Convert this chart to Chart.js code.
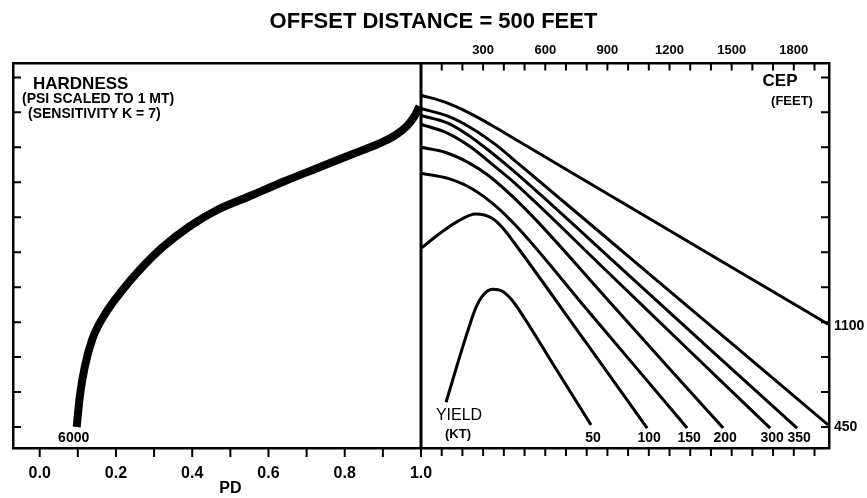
<!DOCTYPE html>
<html>
<head>
<meta charset="utf-8">
<script src="https://cdn.jsdelivr.net/npm/chart.js@4.4.1/dist/chart.umd.min.js"></script>
<style>
  body { margin: 0; background: #fff; }
  #grafica { display: block; }
</style>
</head>
<body>
<canvas id="grafica" width="867" height="498"></canvas>
<script>
// values (vertical axis in tick units, 0 = lowest tick)

// left panel: hardness curve against PD
const pdValues = [0.097, 0.105, 0.118, 0.139, 0.173, 0.215, 0.262, 0.322, 0.393, 0.464, 0.550, 0.642, 0.734, 0.826, 0.891, 0.936, 0.965, 0.983, 0.996];
const hardness = [0.0, 0.86, 1.71, 2.54, 3.26, 3.89, 4.49, 5.14, 5.74, 6.20, 6.60, 7.03, 7.43, 7.83, 8.11, 8.37, 8.63, 8.89, 9.17];

// right panel: one curve per yield (KT) against CEP (feet)
const yieldNames = ["50", "100", "150", "200", "300", "350", "450", "1100"];

const cep50 = [121, 179, 227, 266, 304, 348, 391, 435, 478, 650, 821];
const val50 = [0.71, 1.86, 2.77, 3.43, 3.80, 3.94, 3.89, 3.66, 3.31, 1.68, 0.06];

const cep100 = [0, 92, 179, 265, 343, 400, 450, 800, 1092];
const val100 = [5.11, 5.54, 5.89, 6.09, 5.97, 5.66, 5.27, 2.39, -0.03];

const cep150 = [0, 130, 242, 357, 469, 800, 1050, 1285];
const val150 = [7.26, 7.11, 6.83, 6.34, 5.69, 3.37, 1.62, -0.03];

const cep200 = [0, 116, 227, 324, 435, 565, 900, 1200, 1459];
const val200 = [8.00, 7.86, 7.57, 7.20, 6.63, 5.86, 3.65, 1.67, -0.03];

const cep300 = [0, 130, 242, 338, 454, 900, 1300, 1686];
const val300 = [8.66, 8.40, 8.00, 7.54, 6.97, 4.44, 2.16, -0.03];

const cep350 = [0, 130, 242, 338, 454, 1000, 1400, 1816];
const val350 = [8.91, 8.69, 8.29, 7.86, 7.29, 4.36, 2.20, -0.03];

const cep450 = [0, 130, 246, 357, 469, 1000, 1500, 1966];
const val450 = [9.11, 8.89, 8.54, 8.09, 7.54, 4.89, 2.39, 0.06];

const cep1100 = [0, 116, 227, 333, 439, 1000, 1500, 1966];
const val1100 = [9.49, 9.29, 9.00, 8.66, 8.29, 6.32, 4.57, 2.94];

// axis ticks
const pdTicks = [0, 0.1, 0.2, 0.3, 0.4, 0.5, 0.6, 0.7, 0.8, 0.9, 1.0];
const cepTicks = [100, 200, 300, 400, 500, 600, 700, 800, 900, 1000, 1100, 1200, 1300, 1400, 1500, 1600, 1700, 1800, 1900];
const cepLabels = [300, 600, 900, 1200, 1500, 1800];
const hardnessTicks = [0, 1, 2, 3, 4, 5, 6, 7, 8, 9, 10];

const yieldCurves = [
    [cep50, val50], [cep100, val100], [cep150, val150], [cep200, val200],
    [cep300, val300], [cep350, val350], [cep450, val450], [cep1100, val1100]
];

const FONT = "'Liberation Sans', Arial, sans-serif";

function toPoints(xs, ys) {
    return xs.map((v, i) => ({ x: v, y: ys[i] }));
}

function writeText(ctx, s, x, y, size, weight, align) {
    ctx.font = `${weight} ${size}px ${FONT}`;
    ctx.textAlign = align || "left";
    ctx.textBaseline = "middle";
    ctx.fillText(s, x, y);
}

// inward tick marks, panel divider and annotations
const frameMarks = {
    id: "frameMarks",
    afterDatasetsDraw(chart) {
        const { ctx, chartArea: a, scales } = chart;
        const { x, x2, y } = scales;
        ctx.save();
        ctx.strokeStyle = "#000";
        ctx.fillStyle = "#000";
        ctx.lineWidth = 2;
        ctx.beginPath();
        y.ticks.forEach(t => {
            const py = y.getPixelForValue(t.value);
            ctx.moveTo(a.left, py); ctx.lineTo(a.left + 8, py);
            ctx.moveTo(a.right - 8, py); ctx.lineTo(a.right, py);
        });
        x.ticks.forEach(t => {
            const px = x.getPixelForValue(t.value);
            ctx.moveTo(px, a.bottom); ctx.lineTo(px, a.bottom + 9);
        });
        x2.ticks.forEach(t => {
            const px = x2.getPixelForValue(t.value);
            ctx.moveTo(px, a.top); ctx.lineTo(px, a.top + 7);
            ctx.moveTo(px, a.bottom); ctx.lineTo(px, a.bottom + 8);
        });
        ctx.stroke();

        const divider = x.getPixelForValue(1);
        ctx.lineWidth = 3;
        ctx.beginPath();
        ctx.moveTo(divider, a.top); ctx.lineTo(divider, a.bottom);
        ctx.stroke();

        // left panel texts
        writeText(ctx, "HARDNESS", a.left + 20, a.top + 21, 17, "bold");
        writeText(ctx, "(PSI SCALED TO 1 MT)", a.left + 9, a.top + 36, 14, "bold");
        writeText(ctx, "(SENSITIVITY K = 7)", a.left + 15, a.top + 51, 14, "bold");
        writeText(ctx, "6000", x.getPixelForValue(pdValues[0]) - 3, a.bottom - 10, 14, "bold", "center");
        writeText(ctx, "PD", x.getPixelForValue(0.5), a.bottom + 41, 16, "bold", "center");

        // right panel texts
        writeText(ctx, "CEP", a.right - 49, a.top + 18, 17, "bold", "center");
        writeText(ctx, "(FEET)", a.right - 37, a.top + 38, 13, "bold", "center");
        writeText(ctx, "YIELD", divider + 38, a.bottom - 32, 16, "normal", "center");
        writeText(ctx, "(KT)", divider + 37, a.bottom - 14, 13, "bold", "center");

        yieldCurves.forEach(([xs, ys], i) => {
            const last = xs.length - 1;
            const px = x2.getPixelForValue(xs[last]);
            if (ys[last] > 0.5 || xs[last] > 1900) {
                // curves leaving through the right edge
                writeText(ctx, yieldNames[i], a.right + 5, y.getPixelForValue(ys[last]) + 2, 14, "bold");
            } else {
                writeText(ctx, yieldNames[i], px + 2, a.bottom - 10, 14, "bold", "center");
            }
        });
        ctx.restore();
    }
};

const datasets = [{
    data: toPoints(pdValues, hardness),
    xAxisID: "x",
    yAxisID: "y",
    borderColor: "#000",
    borderWidth: 8,
    borderCapStyle: "butt",
    pointRadius: 0,
    cubicInterpolationMode: "monotone"
}];

yieldCurves.forEach(([xs, ys]) => {
    datasets.push({
        data: toPoints(xs, ys),
        xAxisID: "x2",
        yAxisID: "y",
        borderColor: "#000",
        borderWidth: 3,
        pointRadius: 0,
        cubicInterpolationMode: "monotone"
    });
});

const frameBorder = { display: true, color: "#000", width: 2.5 };

new Chart(document.getElementById("grafica"), {
    type: "line",
    data: { datasets },
    plugins: [frameMarks],
    options: {
        responsive: false,
        animation: false,
        layout: { padding: 0 },
        plugins: {
            legend: { display: false },
            tooltip: { enabled: false },
            title: {
                display: true,
                text: "OFFSET DISTANCE = 500 FEET",
                color: "#000",
                font: { family: FONT, size: 22, weight: "bold" },
                padding: { top: 9, bottom: 5 }
            }
        },
        scales: {
            x: {
                type: "linear",
                position: "bottom",
                min: -0.07,
                max: 2.07,
                afterBuildTicks: scale => { scale.ticks = pdTicks.map(v => ({ value: v })); },
                afterFit: scale => { scale.height = 50; },
                grid: { display: false, drawTicks: false },
                border: frameBorder,
                ticks: {
                    autoSkip: false,
                    maxRotation: 0,
                    padding: 16,
                    color: "#000",
                    font: { family: FONT, size: 16, weight: "bold" },
                    callback: (v, i) => (i % 2 === 0 ? v.toFixed(1) : "")
                }
            },
            x2: {
                type: "linear",
                position: "top",
                min: -1970,
                max: 1970,
                afterBuildTicks: scale => { scale.ticks = cepTicks.map(v => ({ value: v })); },
                afterFit: scale => { scale.height = 23; },
                grid: { display: false, drawTicks: false },
                border: frameBorder,
                ticks: {
                    autoSkip: false,
                    maxRotation: 0,
                    padding: 5,
                    color: "#000",
                    font: { family: FONT, size: 13, weight: "bold" },
                    callback: v => (cepLabels.includes(v) ? String(v) : "")
                }
            },
            y: {
                type: "linear",
                position: "left",
                min: -0.6,
                max: 10.4,
                afterBuildTicks: scale => { scale.ticks = hardnessTicks.map(v => ({ value: v })); },
                afterFit: scale => { scale.width = 13; },
                grid: { display: false, drawTicks: false },
                border: frameBorder,
                ticks: { display: false }
            },
            y2: {
                type: "linear",
                position: "right",
                min: -0.6,
                max: 10.4,
                afterFit: scale => { scale.width = 38; },
                grid: { display: false, drawTicks: false },
                border: frameBorder,
                ticks: { display: false }
            }
        }
    }
});
</script>
</body>
</html>
